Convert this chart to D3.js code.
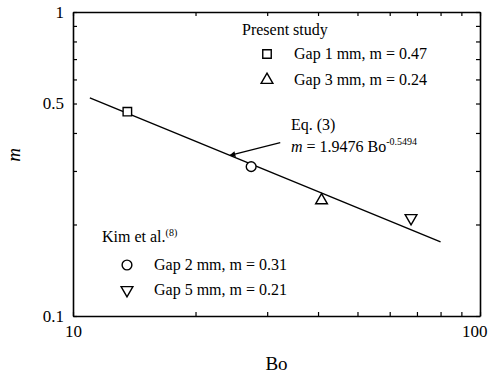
<!DOCTYPE html>
<html>
<head>
<meta charset="utf-8">
<script src="https://cdn.jsdelivr.net/npm/d3@7"></script>
<style>
  body { margin: 0; background: #fff; }
  svg { display: block; font-family: "Liberation Serif", "Times New Roman", serif; }
</style>
</head>
<body>
<div id="chart"></div>
<script>
// Chart data
const presentBo = [13.6, 40.8];
const presentM = [0.47, 0.24];
const kimBo = [27.4, 67.7];
const kimM = [0.31, 0.21];
// Eq. (3): m = a * Bo^b, drawn between these Bo values
const fitCoef = 1.9476;
const fitExp = -0.5494;
const fitRange = [11, 80];
const arrowFrom = [32.3, 0.372];
const arrowToBo = 24.3;

const xTicks = [10, 20, 30, 40, 50, 60, 70, 80, 90, 100];
const yTicks = [0.1, 0.2, 0.3, 0.4, 0.5, 0.6, 0.7, 0.8, 0.9, 1];
const xLabels = [10, 100];
const yLabels = [0.1, 0.5, 1];

function createVisualization() {
    const svgWidth = 490;
    const svgHeight = 376;
    const margin = { top: 12, right: 10, bottom: 60, left: 73 };
    const width = svgWidth - margin.left - margin.right;
    const height = svgHeight - margin.top - margin.bottom;

    const svg = d3.select("#chart")
        .append("svg")
        .attr("width", svgWidth)
        .attr("height", svgHeight);

    const g = svg.append("g")
        .attr("transform", `translate(${margin.left},${margin.top})`);

    // Scales
    const xScale = d3.scaleLog().domain([10, 100]).range([0, width]);
    const yScale = d3.scaleLog().domain([0.1, 1]).range([height, 0]);

    const fmt = d => String(d);

    // Axes with inward ticks on all four sides
    const axes = [
        { axis: d3.axisBottom(xScale).tickValues(xTicks).tickFormat(d => xLabels.includes(d) ? fmt(d) : ""), t: `translate(0,${height})` },
        { axis: d3.axisTop(xScale).tickValues(xTicks).tickFormat(""), t: "translate(0,0)" },
        { axis: d3.axisLeft(yScale).tickValues(yTicks).tickFormat(d => yLabels.includes(d) ? fmt(d) : ""), t: "translate(0,0)" },
        { axis: d3.axisRight(yScale).tickValues(yTicks).tickFormat(""), t: `translate(${width},0)` }
    ];
    axes.forEach(a => {
        const ax = g.append("g")
            .attr("transform", a.t)
            .call(a.axis.tickSize(-4).tickSizeOuter(0).tickPadding(9));
        ax.select(".domain").attr("stroke", "#000").attr("stroke-width", 1.6);
        ax.selectAll(".tick line").attr("stroke", "#000").attr("stroke-width", 1.2);
        ax.selectAll("text").attr("font-size", 17).attr("font-family", "Liberation Serif").attr("fill", "#000");
    });
    // keep the "100" label inside the page edge
    g.selectAll(".tick text").filter(d => d === 100).attr("text-anchor", "end").attr("dx", 7);

    // Axis titles
    g.append("text")
        .attr("x", width / 2)
        .attr("y", height + 54)
        .attr("text-anchor", "middle")
        .attr("font-size", 19)
        .text("Bo");

    svg.append("text")
        .attr("transform", "translate(20,155) rotate(-90)")
        .attr("text-anchor", "middle")
        .attr("font-size", 19)
        .attr("font-style", "italic")
        .text("m");

    // Fit line
    const line = d3.line()
        .x(d => xScale(d))
        .y(d => yScale(fitCoef * Math.pow(d, fitExp)));

    g.append("path")
        .datum(fitRange)
        .attr("d", line)
        .attr("fill", "none")
        .attr("stroke", "#000")
        .attr("stroke-width", 1.4);

    // Arrow to the fit line
    svg.append("defs").append("marker")
        .attr("id", "arrow")
        .attr("viewBox", "0 0 10 10")
        .attr("refX", 9)
        .attr("refY", 5)
        .attr("markerWidth", 8)
        .attr("markerHeight", 6)
        .attr("orient", "auto")
        .attr("markerUnits", "userSpaceOnUse")
        .append("path")
        .attr("d", "M0,0L10,5L0,10z")
        .attr("fill", "#000");

    g.append("line")
        .attr("x1", xScale(arrowFrom[0]))
        .attr("y1", yScale(arrowFrom[1]))
        .attr("x2", xScale(arrowToBo))
        .attr("y2", yScale(fitCoef * Math.pow(arrowToBo, fitExp)))
        .attr("stroke", "#000")
        .attr("stroke-width", 1.2)
        .attr("marker-end", "url(#arrow)");

    // Markers
    const sym = {
        square: d3.symbol().type(d3.symbolSquare).size(72),
        triUp: d3.symbol().type(d3.symbolTriangle).size(60),
        circle: d3.symbol().type(d3.symbolCircle).size(75),
        triDown: d3.symbol().type(d3.symbolTriangle).size(60)
    };

    const points = [
        { bo: presentBo[0], m: presentM[0], s: "square" },
        { bo: presentBo[1], m: presentM[1], s: "triUp" },
        { bo: kimBo[0], m: kimM[0], s: "circle" },
        { bo: kimBo[1], m: kimM[1], s: "triDown" }
    ];

    g.selectAll(".dot")
        .data(points)
        .enter().append("path")
        .attr("class", "dot")
        .attr("d", d => sym[d.s]())
        .attr("transform", d => `translate(${xScale(d.bo)},${yScale(d.m)})${d.s === "triDown" ? " rotate(180)" : ""}`)
        .attr("fill", "#fff")
        .attr("stroke", "#000")
        .attr("stroke-width", 1.4);

    // Legends (absolute positions)
    const legend = svg.append("g").attr("font-size", 16).attr("fill", "#000");

    legend.append("text").attr("x", 242).attr("y", 35).text("Present study");
    const kim = legend.append("text").attr("x", 102).attr("y", 242);
    kim.append("tspan").text("Kim et al.");
    kim.append("tspan").attr("font-size", 10).attr("dy", -6).text("(8)");

    const legendRows = [
        { s: "square", x: 267, y: 59, label: "Gap 1 mm, m = 0.47" },
        { s: "triUp", x: 267, y: 85, label: "Gap 3 mm, m = 0.24" },
        { s: "circle", x: 127, y: 270, label: "Gap 2 mm, m = 0.31" },
        { s: "triDown", x: 127, y: 295, label: "Gap 5 mm, m = 0.21" }
    ];
    legendRows.forEach(r => {
        legend.append("path")
            .attr("d", sym[r.s]())
            .attr("transform", `translate(${r.x},${r.y - 5})${r.s === "triDown" ? " rotate(180)" : ""}`)
            .attr("fill", "#fff")
            .attr("stroke", "#000")
            .attr("stroke-width", 1.4);
        legend.append("text").attr("x", r.x + 27).attr("y", r.y).text(r.label);
    });

    // Equation label
    legend.append("text").attr("x", 291).attr("y", 130).text("Eq. (3)");
    const eq = legend.append("text").attr("x", 291).attr("y", 152);
    eq.append("tspan").attr("font-style", "italic").text("m");
    eq.append("tspan").text(" = 1.9476 Bo");
    eq.append("tspan").attr("font-size", 10).attr("dy", -7).text("-0.5494");
}

createVisualization();
</script>
</body>
</html>
